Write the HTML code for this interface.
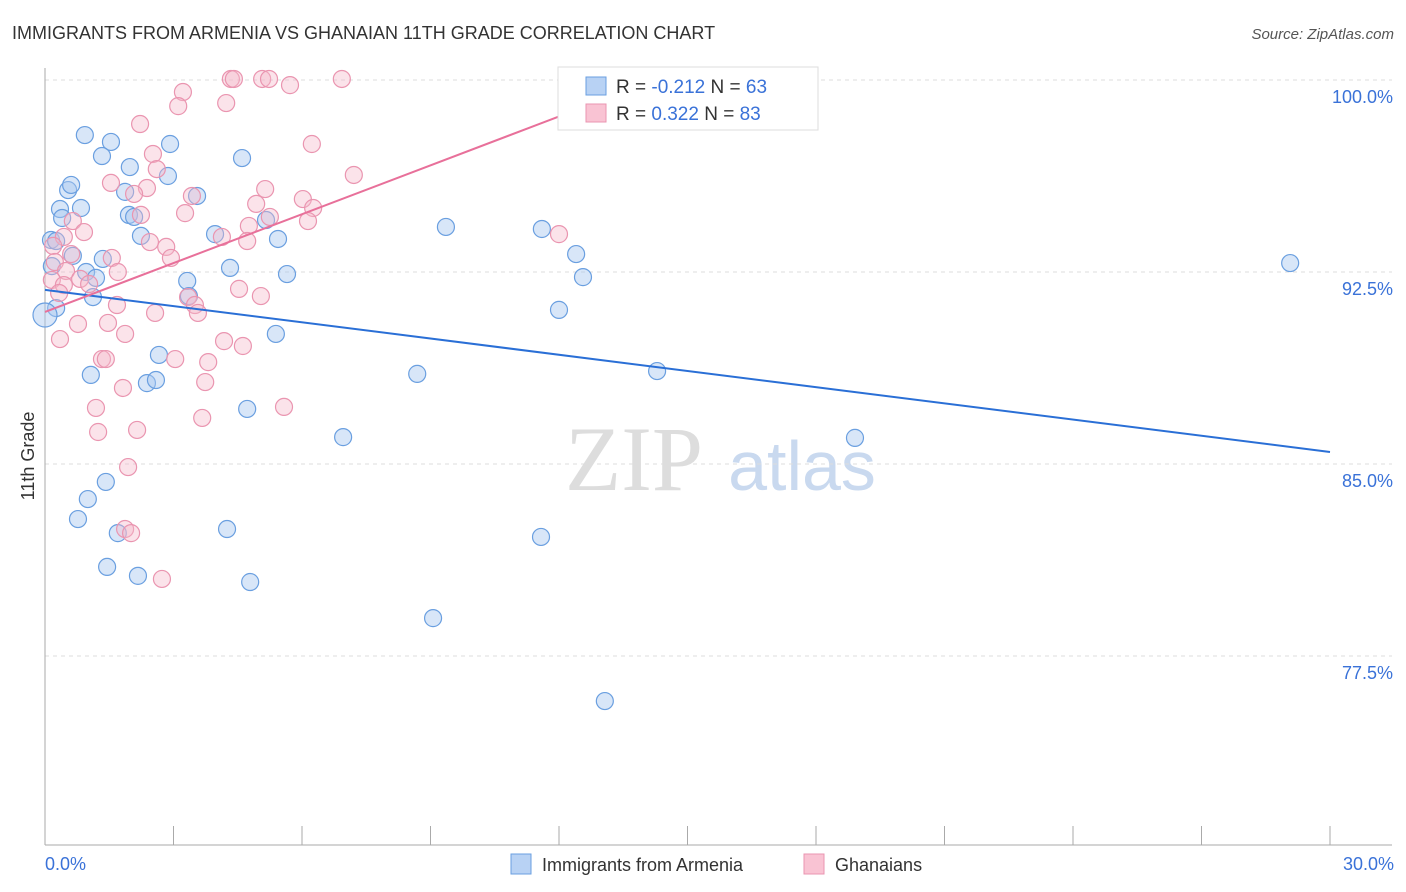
<!DOCTYPE html>
<html><head><meta charset="utf-8"><style>
body{margin:0;background:#fff;font-family:"Liberation Sans",sans-serif}
svg{display:block}
</style></head><body>
<svg id="chart" width="1406" height="892" viewBox="0 0 1406 892">
<text x="12" y="39" font-size="18" fill="#333">IMMIGRANTS FROM ARMENIA VS GHANAIAN 11TH GRADE CORRELATION CHART</text>
<text x="1394" y="39" font-size="15" fill="#555" font-style="italic" text-anchor="end">Source: ZipAtlas.com</text>
<g>
<text x="634" y="490" font-size="92" fill="#ddd" font-family="Liberation Serif,serif" text-anchor="middle">ZIP</text>
<text x="802" y="490" font-size="70" fill="#c9d9ef" text-anchor="middle">atlas</text>
</g>
<g id="grid"></g>
<g id="axes"></g>
<g id="pts"></g>
<g id="lines"></g>
<text x="34" y="456" font-size="18" fill="#333" transform="rotate(-90 34 456)" text-anchor="middle">11th Grade</text>
<text x="45" y="870" font-size="18" fill="#3a72d8">0.0%</text>
<text x="1394" y="870" font-size="18" fill="#3a72d8" text-anchor="end">30.0%</text>
<g>
<rect x="558" y="67" width="260" height="63" fill="#fff" stroke="#ddd"/>
<rect x="586" y="77" width="20" height="18" fill="#b8d2f4" stroke="#6a9fe0"/>
<rect x="586" y="104" width="20" height="18" fill="#f9c3d3" stroke="#ea95b0"/>
<text x="616" y="93" font-size="19" fill="#333">R = <tspan fill="#3a72d8">-0.212</tspan>   N = <tspan fill="#3a72d8">63</tspan></text>
<text x="616" y="120" font-size="19" fill="#333">R =  <tspan fill="#3a72d8">0.322</tspan>   N = <tspan fill="#3a72d8">83</tspan></text>
</g>
<g>
<rect x="511" y="854" width="20" height="20" fill="#b8d2f4" stroke="#6a9fe0"/>
<text x="542" y="871" font-size="18" fill="#333">Immigrants from Armenia</text>
<rect x="804" y="854" width="20" height="20" fill="#f9c3d3" stroke="#ea95b0"/>
<text x="835" y="871" font-size="18" fill="#333">Ghanaians</text>
</g>
</svg>
<script>
const yTicks=[100,92.5,85,77.5];
const yTickLabels=["100.0%","92.5%","85.0%","77.5%"];
const xTicks=[0,3,6,9,12,15,18,21,24,27,30];
const armeniaX=[0.93,1.54,1.33,1.98,2.92,4.60,0.54,0.61,1.87,3.55,2.87,0.35,0.84,0.40,1.96,2.08,5.16,9.36,11.60,0.14,0.26,2.24,3.97,5.44,0.65,1.35,12.40,0.16,0.96,1.19,4.32,5.65,3.32,12.56,29.07,1.12,3.36,0.26,0.0,12.00,5.39,2.66,1.07,2.38,2.59,8.69,14.29,4.72,6.96,18.91,1.42,1.00,0.77,1.70,4.25,11.58,1.45,2.17,4.79,9.06,13.07];
const armeniaY=[97.85,97.58,97.03,96.60,97.50,96.95,95.70,95.90,95.63,95.47,96.25,94.96,95.00,94.61,94.73,94.65,94.53,94.26,94.18,93.75,93.71,93.91,93.98,93.79,93.13,93.01,93.20,92.73,92.50,92.27,92.66,92.42,92.15,92.30,92.85,91.52,91.56,91.09,90.82,91.02,90.08,89.26,88.48,88.16,88.28,88.52,88.63,87.15,86.05,86.02,84.30,83.63,82.85,82.30,82.46,82.15,80.98,80.63,80.39,78.98,75.74];
const ghanaX=[3.22,4.34,4.41,5.07,5.23,5.72,6.93,3.11,4.23,2.22,6.23,2.52,2.61,7.21,1.54,2.38,5.14,2.08,3.43,6.02,4.93,6.26,3.27,2.24,0.65,4.76,6.14,5.25,12.00,0.44,0.91,2.45,4.13,4.72,0.19,2.83,0.61,1.56,2.94,0.23,0.49,1.70,0.82,1.03,0.16,4.53,5.04,3.34,3.50,1.68,2.57,3.57,0.77,1.47,1.87,0.35,4.18,4.62,3.04,1.33,1.42,3.81,1.82,3.74,1.19,5.58,3.67,1.24,2.15,1.94,1.87,2.01,2.73,0.44,0.33];
const ghanaY=[99.53,100.04,100.04,100.04,100.04,99.80,100.04,98.98,99.10,98.28,97.50,97.11,96.52,96.29,95.98,95.78,95.74,95.55,95.47,95.35,95.16,95.00,94.80,94.73,94.49,94.30,94.49,94.65,93.98,93.87,94.06,93.67,93.87,93.71,93.52,93.48,93.20,93.05,93.05,92.89,92.54,92.50,92.23,92.03,92.19,91.84,91.56,91.52,91.21,91.21,90.90,90.90,90.47,90.51,90.08,89.88,89.80,89.61,89.10,89.10,89.10,88.98,87.97,88.20,87.19,87.23,86.80,86.25,86.33,84.88,82.46,82.30,80.51,91.99,91.68];
const armeniaTrendX=[0,30];
const armeniaTrendY=[91.8,85.47];
const ghanaTrendX=[0,14.24];
const ghanaTrendY=[90.94,100];
const NS="http://www.w3.org/2000/svg";
const xs=v=>45+v*1285/30;
const ys=v=>80+(100-v)*192/7.5;
function mk(tag,attrs,parent){const e=document.createElementNS(NS,tag);for(const k in attrs)e.setAttribute(k,attrs[k]);document.getElementById(parent).appendChild(e);return e;}
yTicks.forEach((t,i)=>{
 const l=mk('line',{x1:45,x2:1392,y1:ys(t),y2:ys(t),stroke:'#ddd','stroke-dasharray':'4,4'},'grid');
 
 
 const tx=mk('text',{x:1393,y:ys(t)+23,'font-size':18,fill:'#3a72d8','text-anchor':'end'},'grid');
 tx.textContent=yTickLabels[i];
 
 
});
const ya=mk('line',{x1:45,x2:45,y1:68,y2:845,stroke:'#aaa'},'axes');


const xa=mk('line',{x1:45,x2:1392,y1:845,y2:845,stroke:'#aaa'},'axes');


xTicks.forEach(t=>{
 const l=mk('line',{x1:xs(t),x2:xs(t),y1:826,y2:845,stroke:'#aaa'},'axes');
 
 
});
armeniaX.forEach((x,i)=>{
 const c=mk('circle',{cx:xs(x),cy:ys(armeniaY[i]),r:x===0?12:8.5,fill:'#a9c7f0','fill-opacity':0.45,stroke:'#6a9fe0','stroke-width':1.2},'pts');
 
 
});
ghanaX.forEach((x,i)=>{
 const c=mk('circle',{cx:xs(x),cy:ys(ghanaY[i]),r:8.5,fill:'#f6b8cb','fill-opacity':0.4,stroke:'#ea95b0','stroke-width':1.2},'pts');
 
 
});
const bl=mk('line',{x1:xs(armeniaTrendX[0]),y1:ys(armeniaTrendY[0]),x2:xs(armeniaTrendX[1]),y2:ys(armeniaTrendY[1]),stroke:'#2a6fd6','stroke-width':2},'lines');


const pl=mk('line',{x1:xs(ghanaTrendX[0]),y1:ys(ghanaTrendY[0]),x2:xs(ghanaTrendX[1]),y2:ys(ghanaTrendY[1]),stroke:'#e8709a','stroke-width':2},'lines');


</script>
</body></html>
